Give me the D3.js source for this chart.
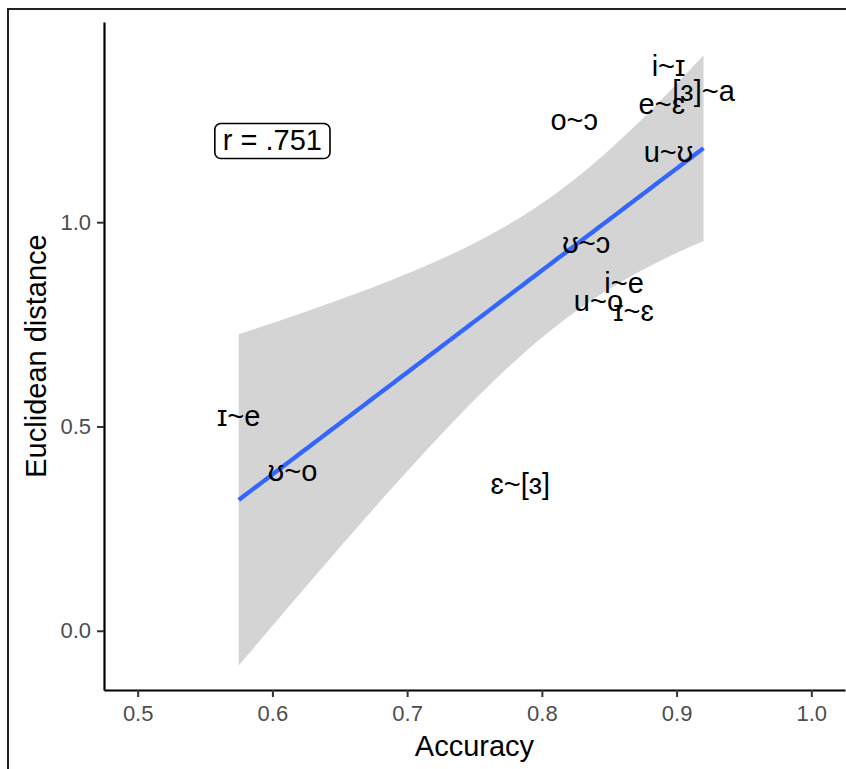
<!DOCTYPE html>
<html>
<head>
<meta charset="utf-8">
<script src="https://cdn.jsdelivr.net/npm/d3@7"></script>
<style>
  html, body { margin: 0; padding: 0; background: #fff; }
  svg { display: block; font-family: "Liberation Sans", Arial, sans-serif; }
</style>
</head>
<body>
<svg id="chart" width="846" height="769"></svg>
<script>
// ---- data ----
const pairLabels = ["i~ɪ", "[ɜ]~a", "e~ɛ", "o~ɔ", "u~ʊ", "ʊ~ɔ", "i~e", "u~o", "ɪ~ɛ", "ɪ~e", "ʊ~o", "ɛ~[ɜ]"];
const accuracy   = [0.894, 0.920, 0.889, 0.824, 0.894, 0.833, 0.861, 0.842, 0.868, 0.575, 0.615, 0.784];
const distance   = [1.382, 1.321, 1.289, 1.250, 1.172, 0.949, 0.850, 0.806, 0.782, 0.525, 0.392, 0.360];
const xTicks = [0.5, 0.6, 0.7, 0.8, 0.9, 1.0];
const yTicks = [0.0, 0.5, 1.0];
const corrLabel = "r = .751";
const corrPos = [0.6, 1.2];

// ---- layout ----
const svg = d3.select("#chart");
const pLeft = 104, pRight = 845, pTop = 22, pBottom = 690;

const x = d3.scaleLinear().domain([0.475, 1.025]).range([pLeft, pRight]);
const y = d3.scaleLinear().domain([-0.145, 1.49]).range([pBottom, pTop]);

// outer frame
svg.append("rect").attr("x", 8).attr("y", 9).attr("width", 900).attr("height", 900)
  .attr("fill", "none").attr("stroke", "#222").attr("stroke-width", 2);

// ---- linear model with 95% confidence band (as geom_smooth(method = "lm")) ----
const n = accuracy.length;
const mx = d3.mean(accuracy), my = d3.mean(distance);
let sxx = 0, sxy = 0;
for (let i = 0; i < n; i++) {
  sxx += (accuracy[i] - mx) ** 2;
  sxy += (accuracy[i] - mx) * (distance[i] - my);
}
const slope = sxy / sxx, intercept = my - slope * mx;
let sse = 0;
for (let i = 0; i < n; i++) sse += (distance[i] - (intercept + slope * accuracy[i])) ** 2;
const s = Math.sqrt(sse / (n - 2));
const tCrit = 2.228; // t(0.975, df = 10)
const [xmin, xmax] = d3.extent(accuracy);
const fitX = d3.range(0, 81).map(k => xmin + (xmax - xmin) * k / 80);
const band = fitX.map(xv => {
  const fit = intercept + slope * xv;
  const se = s * Math.sqrt(1 / n + (xv - mx) ** 2 / sxx);
  return { x: xv, fit, lo: fit - tCrit * se, hi: fit + tCrit * se };
});

svg.append("path").datum(band)
  .attr("d", d3.area().x(d => x(d.x)).y0(d => y(d.lo)).y1(d => y(d.hi)))
  .attr("fill", "#999999").attr("fill-opacity", 0.42);

svg.append("path").datum(band)
  .attr("d", d3.line().x(d => x(d.x)).y(d => y(d.fit)))
  .attr("fill", "none").attr("stroke", "#3366FF").attr("stroke-width", 4.3);

// ---- text labels ----
svg.append("g").selectAll("text").data(pairLabels).join("text")
  .attr("x", (d, i) => x(accuracy[i]))
  .attr("y", (d, i) => y(distance[i]))
  .attr("text-anchor", "middle")
  .attr("dominant-baseline", "central")
  .attr("font-size", 29)
  .attr("fill", "#000")
  .text(d => d);

// ---- correlation label ----
const cl = svg.append("g");
const ct = cl.append("text")
  .attr("x", x(corrPos[0])).attr("y", y(corrPos[1]))
  .attr("text-anchor", "middle").attr("dominant-baseline", "central")
  .attr("font-size", 29).attr("fill", "#000").text(corrLabel);
const bb = ct.node().getBBox();
cl.insert("rect", "text")
  .attr("x", bb.x - 8).attr("y", bb.y - 1).attr("width", bb.width + 16).attr("height", bb.height + 3)
  .attr("rx", 6).attr("ry", 6)
  .attr("fill", "#fff").attr("stroke", "#000").attr("stroke-width", 1.6);

// ---- axes ----
const xAxis = svg.append("g").attr("transform", `translate(0,${pBottom})`)
  .call(d3.axisBottom(x).tickValues(xTicks).tickFormat(d3.format(".1f")).tickSizeOuter(0).tickSizeInner(7).tickPadding(8));
const yAxis = svg.append("g").attr("transform", `translate(${pLeft},0)`)
  .call(d3.axisLeft(y).tickValues(yTicks).tickFormat(d3.format(".1f")).tickSizeOuter(0).tickSizeInner(7).tickPadding(6));

[xAxis, yAxis].forEach(g => {
  g.select(".domain").attr("stroke", "#000").attr("stroke-width", 2.2);
  g.selectAll(".tick line").attr("stroke", "#333").attr("stroke-width", 2);
  g.selectAll(".tick text").attr("fill", "#4D4D4D").attr("font-size", 22)
    .attr("font-family", "Liberation Sans, Arial, sans-serif");
});

// axis titles
svg.append("text").attr("x", (pLeft + pRight) / 2).attr("y", 756)
  .attr("text-anchor", "middle").attr("font-size", 29).attr("fill", "#000").text("Accuracy");
svg.append("text").attr("transform", `translate(46,${(pTop + pBottom) / 2}) rotate(-90)`)
  .attr("text-anchor", "middle").attr("font-size", 29).attr("fill", "#000").text("Euclidean distance");
</script>
</body>
</html>
